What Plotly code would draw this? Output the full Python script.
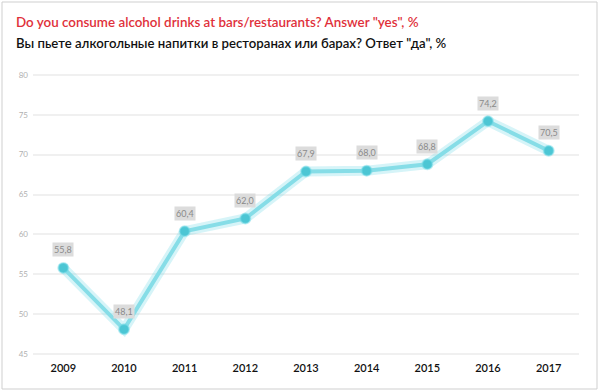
import plotly.graph_objects as go

years = ["2009", "2010", "2011", "2012", "2013", "2014", "2015", "2016", "2017"]
values = [55.8, 48.1, 60.4, 62.0, 67.9, 68.0, 68.8, 74.2, 70.5]
y_ticks = [45, 50, 55, 60, 65, 70, 75, 80]

title_en = 'Do you consume alcohol drinks at bars/restaurants? Answer "yes", %'
title_ru = 'Вы пьете алкогольные напитки в ресторанах или барах? Ответ "да", %'

labels = [f"{v:.1f}".replace(".", ",") for v in values]

fig = go.Figure()
# glow
fig.add_trace(go.Scatter(x=years, y=values, mode="lines",
                         line=dict(color="rgba(120,220,232,0.30)", width=10),
                         hoverinfo="skip", showlegend=False))
fig.add_trace(go.Scatter(x=years, y=values, mode="lines+markers",
                         line=dict(color="#86dde7", width=4),
                         marker=dict(color="#4cc6d4", size=10,
                                     line=dict(color="rgba(120,220,232,0.5)", width=2)),
                         showlegend=False))

for i, (v, t) in enumerate(zip(values, labels)):
    fig.add_annotation(x=i, y=v, text=t, showarrow=False, yshift=18,
                       font=dict(family="Lato", size=9, color="#8a8a8a"),
                       bgcolor="#dcdcdc", borderpad=1)

fig.add_annotation(xref="paper", yref="paper", x=(14 - 33) / 546, y=(360 - 22) / 300,
                   xanchor="left", yanchor="middle", showarrow=False,
                   text=title_en, font=dict(family="Lato", size=13.4, color="#e0303a", weight=600))
fig.add_annotation(xref="paper", yref="paper", x=(14 - 33) / 546, y=(360 - 43) / 300,
                   xanchor="left", yanchor="middle", showarrow=False,
                   text=title_ru, font=dict(family="Lato", size=13.2, color="#111111", weight=600))

fig.add_shape(type="rect", xref="paper", yref="paper",
              x0=(2 - 33) / 546, x1=(597 - 33) / 546,
              y0=(360 - 389) / 300, y1=(360 - 2) / 300,
              line=dict(color="#cfcfcf", width=1), fillcolor="rgba(0,0,0,0)", layer="below")

fig.update_layout(
    width=600, height=392,
    margin=dict(l=33, r=21, t=60, b=32, autoexpand=False),
    paper_bgcolor="white", plot_bgcolor="white",
    font=dict(family="Lato"),
    xaxis=dict(type="category", range=[-0.5, 8.5], showgrid=False, zeroline=False,
               showline=False, ticks="", automargin=False,
               tickfont=dict(family="Lato", size=11, color="#111111", weight=600)),
    yaxis=dict(range=[44.25, 81.875], tickvals=y_ticks, showgrid=True, automargin=False,
               gridcolor="#f0f0f0", gridwidth=2, zeroline=False, showline=False,
               tickfont=dict(family="Lato", size=8, color="#b0b0b0"), ticklabelstandoff=4),
)

fig.write_html("out.html", config={"displayModeBar": False},
               post_script="document.body.style.margin='0';")
